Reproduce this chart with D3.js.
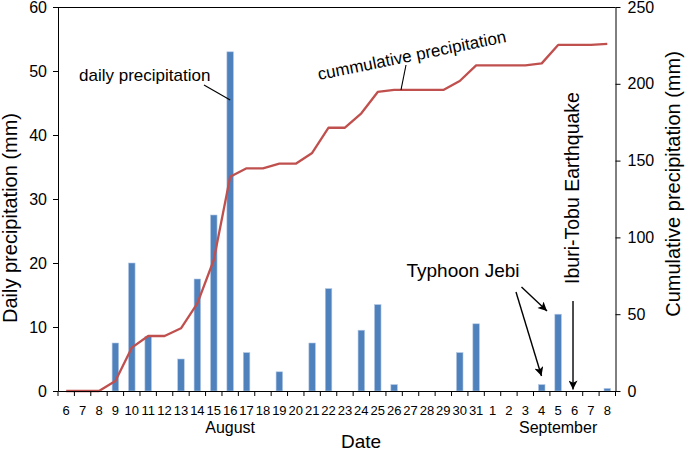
<!DOCTYPE html>
<html>
<head>
<meta charset="utf-8">
<script src="https://cdn.jsdelivr.net/npm/d3@7"></script>
<style>
  html, body { margin: 0; padding: 0; background: #fff; }
  svg { display: block; }
  text { font-family: "Liberation Sans", Arial, Helvetica, sans-serif; fill: #000; }
</style>
</head>
<body>
<svg id="chart" width="685" height="452"></svg>
<script>
// ---- data ----
const dates = ["Aug 6","Aug 7","Aug 8","Aug 9","Aug 10","Aug 11","Aug 12","Aug 13","Aug 14","Aug 15",
  "Aug 16","Aug 17","Aug 18","Aug 19","Aug 20","Aug 21","Aug 22","Aug 23","Aug 24","Aug 25",
  "Aug 26","Aug 27","Aug 28","Aug 29","Aug 30","Aug 31",
  "Sep 1","Sep 2","Sep 3","Sep 4","Sep 5","Sep 6","Sep 7","Sep 8"];
const dayLabels = ["6","7","8","9","10","11","12","13","14","15","16","17","18","19","20","21","22",
  "23","24","25","26","27","28","29","30","31","1","2","3","4","5","6","7","8"];
const dailyPrecip = [0,0,0,7.5,20,8.5,0,5,17.5,27.5,53,6,0,3,0,7.5,16,0,9.5,13.5,1,0,0,0,6,10.5,
  0,0,0,1,12,0,0,0.4];
const cumulativePrecip = [0,0,0,6.5,28.2,35.8,35.8,40.8,57,85.3,139.5,145,145,148,148,155,171.4,171.4,
  180.8,194.7,196,196,196,196,201.8,212,212,212,212,213.3,225.3,225.3,225.3,226];
const leftTicks = [0,10,20,30,40,50,60];
const rightTicks = [0,50,100,150,200,250];
const months = [{label:"August", at:"Aug 16"}, {label:"September", at:"Sep 5"}];

// ---- layout ----
const svg = d3.select("#chart");
const L = 58, R = 615.5, T = 7, B = 391;
const x = d3.scaleBand().domain(dates).range([L, R]).paddingInner(0).paddingOuter(0);
const bw = x.bandwidth();
const cx = d => x(d) + bw / 2;
const yL = d3.scaleLinear().domain([0, 60]).range([B, T]);
const yR = d3.scaleLinear().domain([0, 250]).range([B, T]);

const barColor = "#4f81bd", lineColor = "#c0504d";

// bars
svg.append("g").selectAll("rect").data(dates).join("rect")
  .attr("x", (d) => cx(d) - bw * 0.2)
  .attr("width", bw * 0.4)
  .attr("y", (d, i) => yL(dailyPrecip[i]))
  .attr("height", (d, i) => B - yL(dailyPrecip[i]))
  .attr("fill", barColor)
  .attr("stroke", "#b4c8e3").attr("stroke-width", 0.6);

// cumulative line
const line = d3.line().x(d => cx(d[0])).y(d => yR(d[1]));
svg.append("path")
  .datum(dates.map((d, i) => [d, cumulativePrecip[i]]))
  .attr("d", line)
  .attr("fill", "none").attr("stroke", lineColor).attr("stroke-width", 2.3)
  .attr("stroke-linejoin", "round");

// axes
const axL = svg.append("g").attr("transform", `translate(${L},0)`)
  .call(d3.axisLeft(yL).tickValues(leftTicks).tickSize(5).tickPadding(6).tickSizeOuter(0));
const axR = svg.append("g").attr("transform", `translate(${R},0)`)
  .call(d3.axisRight(yR).tickValues(rightTicks).tickSize(5).tickPadding(7).tickSizeOuter(0));
[axL, axR].forEach(g => {
  g.selectAll("text").style("font-size", "16px").attr("fill", "#000");
  g.selectAll("line,path").attr("stroke", "#000");
});

// top frame line
svg.append("line").attr("x1", L).attr("x2", R).attr("y1", T + 0.5).attr("y2", T + 0.5)
  .attr("stroke", "#000");

// bottom axis
const axB = svg.append("g").attr("transform", `translate(0,${B})`)
  .call(d3.axisBottom(x).tickSize(0).tickPadding(0).tickSizeOuter(0)
    .tickFormat((d, i) => dayLabels[i]));
axB.select(".domain").attr("stroke", "#000");
axB.selectAll("text").attr("dy", null).attr("y", 23.5).style("font-size", "13px").attr("fill", "#000");
// tick marks at band boundaries
const bounds = dates.map(d => x(d)).concat([R]);
svg.append("g").selectAll("line").data(bounds).join("line")
  .attr("x1", d => d).attr("x2", d => d).attr("y1", B).attr("y2", B + 5)
  .attr("stroke", "#000");

// month labels
svg.append("g").selectAll("text").data(months).join("text")
  .attr("x", d => cx(d.at)).attr("y", 433).attr("text-anchor", "middle")
  .style("font-size", "16px").text(d => d.label);

// axis titles
svg.append("text").attr("x", 361).attr("y", 448).attr("text-anchor", "middle")
  .style("font-size", "19px").text("Date");
svg.append("text").attr("transform", "translate(17,218) rotate(-90)").attr("text-anchor", "middle")
  .style("font-size", "20px").text("Daily precipitation (mm)");
svg.append("text").attr("transform", "translate(680,184) rotate(-90)").attr("text-anchor", "middle")
  .style("font-size", "20px").text("Cumulative precipitation (mm)");

// annotations
svg.append("defs").append("marker")
  .attr("id", "ah").attr("viewBox", "0 0 10 10").attr("refX", 10).attr("refY", 5)
  .attr("markerWidth", 11).attr("markerHeight", 9).attr("markerUnits", "userSpaceOnUse")
  .attr("orient", "auto")
  .append("path").attr("d", "M0,0 L10,5 L0,10 L2.5,5 Z").attr("fill", "#000");

svg.append("text").attr("x", 79).attr("y", 81).style("font-size", "17px").text("daily precipitation");
svg.append("line").attr("x1", 204).attr("y1", 85).attr("x2", cx("Aug 16")).attr("y2", 100)
  .attr("stroke", "#000").attr("stroke-width", 1.1);

svg.append("text").attr("transform", "translate(413,61) rotate(-11.5)").attr("text-anchor", "middle")
  .style("font-size", "17px").text("cummulative precipitation");
svg.append("line").attr("x1", 406).attr("y1", 65).attr("x2", 401).attr("y2", yR(cumulativePrecip[20]))
  .attr("stroke", "#000").attr("stroke-width", 1.1);

svg.append("text").attr("x", 406.5).attr("y", 277).style("font-size", "19px").text("Typhoon Jebi");
svg.append("line").attr("x1", 521.5).attr("y1", 287).attr("x2", 547).attr("y2", 311)
  .attr("stroke", "#000").attr("stroke-width", 1.4).attr("marker-end", "url(#ah)");
svg.append("line").attr("x1", 516).attr("y1", 292).attr("x2", 541.5).attr("y2", 376)
  .attr("stroke", "#000").attr("stroke-width", 1.4).attr("marker-end", "url(#ah)");

svg.append("text").attr("transform", "translate(578.5,188) rotate(-90)").attr("text-anchor", "middle")
  .style("font-size", "19.5px").text("Iburi-Tobu Earthquake");
svg.append("line").attr("x1", cx("Sep 6") - 1.5).attr("y1", 301).attr("x2", cx("Sep 6") - 1.5).attr("y2", 389.5)
  .attr("stroke", "#000").attr("stroke-width", 1.4).attr("marker-end", "url(#ah)");
</script>
</body>
</html>
